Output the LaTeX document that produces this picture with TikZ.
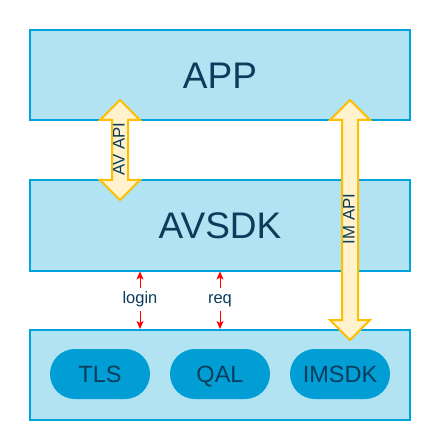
\documentclass[tikz,border=0pt]{standalone}
\usepackage{fontspec}
\setmainfont{Liberation Sans}
\usetikzlibrary{arrows.meta,calc}
\definecolor{boxfill}{RGB}{177,227,243}
\definecolor{boxline}{RGB}{0,163,219}
\definecolor{pillfill}{RGB}{0,158,212}
\definecolor{txtcol}{RGB}{10,61,92}
\definecolor{apifill}{RGB}{255,242,204}
\definecolor{apiline}{RGB}{255,190,0}
\definecolor{reqred}{RGB}{255,0,0}
\tikzset{
  layerbox/.style={draw=boxline, fill=boxfill, line width=2bp, minimum width=380bp, minimum height=90bp, inner sep=0pt, text=txtcol},
  bigtext/.style={font=\fontsize{37bp}{40bp}\selectfont, text height=26.5bp, text depth=0bp},
  pill/.style={fill=pillfill, draw=none, rounded corners=25bp, minimum width=100bp, minimum height=50bp, inner sep=0pt, text=txtcol, font=\fontsize{23.5bp}{26bp}\selectfont, text height=16.8bp, text depth=0bp},
  apiarrow/.style={draw=apiline, fill=apifill, line width=2bp, line join=miter},
  apilabel/.style={rotate=90, text=txtcol, inner sep=0pt, font=\fontsize{16.8bp}{18bp}\selectfont, text height=12bp, text depth=0bp},
  redarrow/.style={draw=reqred, line width=1bp, -{Stealth[length=8bp,width=7bp,inset=2bp]}},
  reqlabel/.style={fill=white, text=txtcol, inner xsep=3bp, inner ysep=3.5bp, font=\fontsize{16.5bp}{19bp}\selectfont, text height=12.5bp, text depth=3.8bp}
}
\begin{document}
\begin{tikzpicture}[x=1bp,y=-1bp]
\useasboundingbox (0,0) rectangle (430,440);
\node[layerbox, bigtext] (app) at (220,75.5) {APP};
\node[layerbox, bigtext] (avsdk) at (220,225.5) {AVSDK};
\node[layerbox] (base) at (220,375) {};
\node[pill] (tls) at (100,374) {TLS};
\node[pill] (qal) at (220,374) {QAL};
\node[pill] (imsdk) at (340,374) {IMSDK};
% AV API double arrow
\coordinate (av) at (120,150);
\draw[apiarrow] ($(av)+(0,-50)$) -- ++(20,20) -- ++(-12,0) -- ++(0,60) -- ++(12,0) -- ++(-20,20) -- ++(-20,-20) -- ++(12,0) -- ++(0,-60) -- ++(-12,0) -- cycle;
\node[apilabel] (avapi) at (118.7,149.3) {AV API};
% IM API double arrow
\coordinate (im) at (350,220);
\draw[apiarrow] ($(im)+(0,-120)$) -- ++(20,20) -- ++(-12,0) -- ++(0,200) -- ++(12,0) -- ++(-20,20) -- ++(-20,-20) -- ++(12,0) -- ++(0,-200) -- ++(-12,0) -- cycle;
\node[apilabel] (imapi) at (348.5,219) {IM API};
% login / req
\node[reqlabel] (login) at (140,299.5) {login};
\node[reqlabel] (req) at (220,299.5) {req};
\draw[redarrow] (login) -- (login |- avsdk.south);
\draw[redarrow] (login) -- (login |- base.north);
\draw[redarrow] (req) -- (req |- avsdk.south);
\draw[redarrow] (req) -- (req |- base.north);
\end{tikzpicture}
\end{document}
